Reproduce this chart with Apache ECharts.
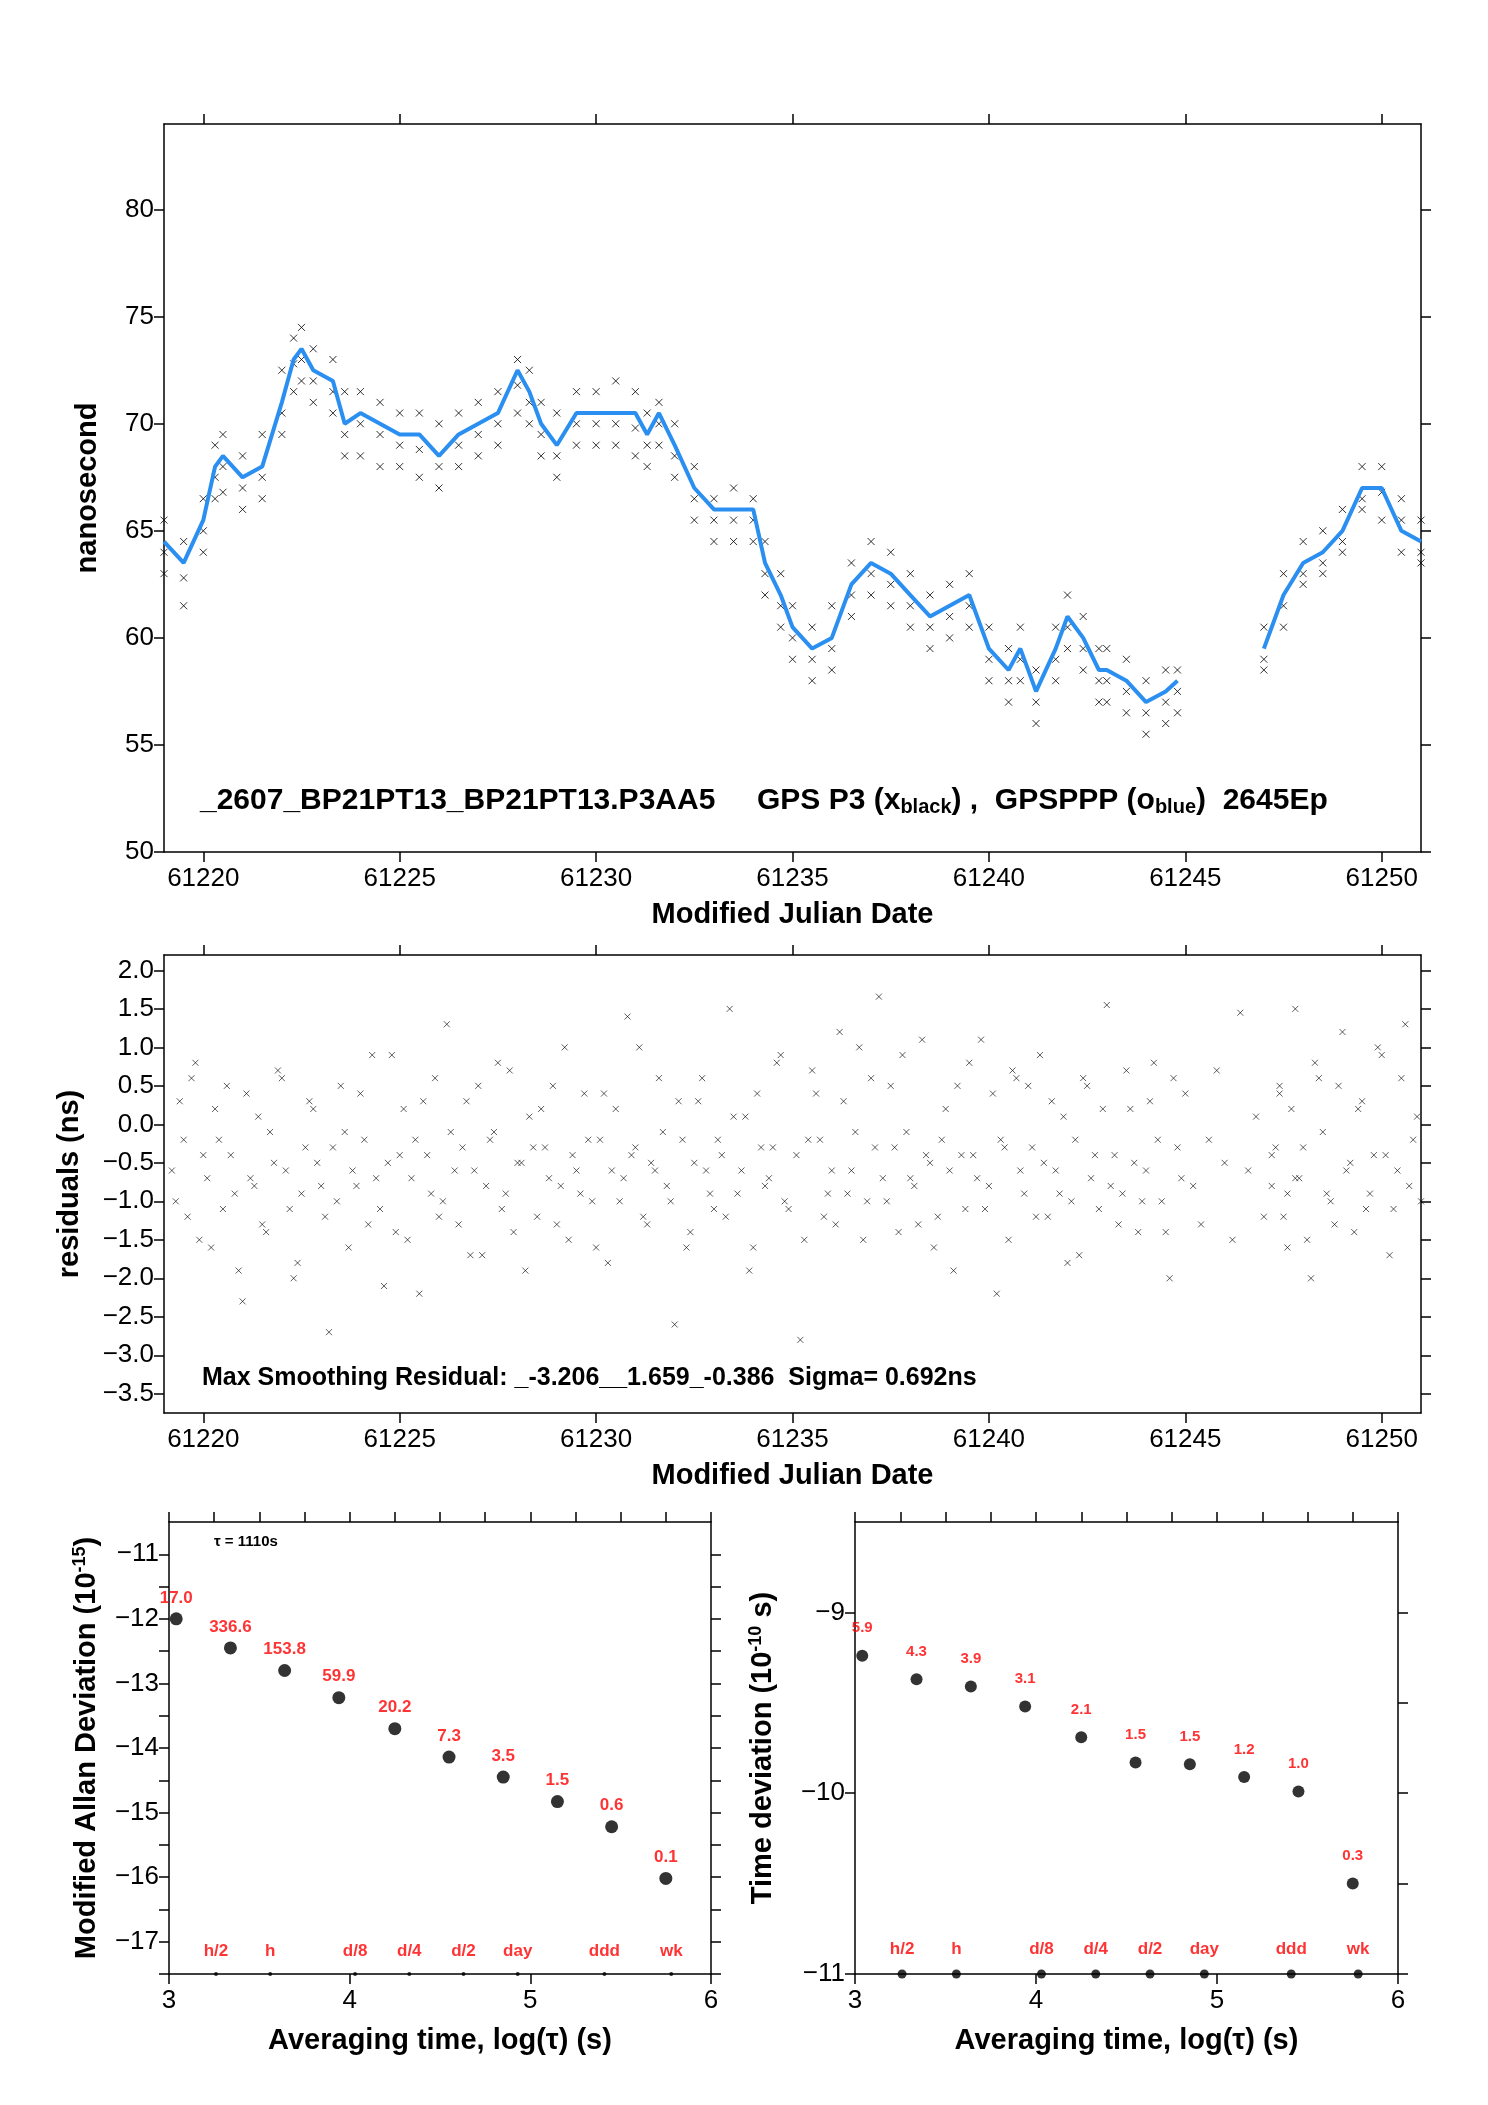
<!DOCTYPE html>
<html>
<head>
<meta charset="utf-8">
<script src="https://cdn.jsdelivr.net/npm/echarts@6/dist/echarts.min.js"></script>
<style>
  html, body { margin: 0; padding: 0; background: #fff; }
  #main { width: 1488px; height: 2105px; }
</style>
</head>
<body>
<div id="main"></div>
<script>
// ---- phase plot: smoothed (blue) track
const blueDays = [61219.0, 61219.5, 61220.0, 61220.3, 61220.5, 61221.0, 61221.5, 61222.0, 61222.3, 61222.5,
  61222.8, 61223.3, 61223.6, 61224.0, 61224.5, 61225.0, 61225.5, 61226.0, 61226.5, 61227.0,
  61227.5, 61228.0, 61228.3, 61228.6, 61229.0, 61229.5, 61230.0, 61230.5, 61231.0, 61231.3,
  61231.6, 61232.0, 61232.5, 61233.0, 61233.5, 61234.0, 61234.3, 61234.7, 61235.0, 61235.5,
  61236.0, 61236.5, 61237.0, 61237.5, 61238.0, 61238.5, 61239.0, 61239.5, 61240.0, 61240.5,
  61240.8, 61241.2, 61241.7, 61242.0, 61242.4, 61242.8, 61243.0, 61243.5, 61244.0, 61244.5,
  61244.8, null,
  61247.0, 61247.5, 61248.0, 61248.5, 61249.0, 61249.5, 61250.0, 61250.5, 61251.0]
const blueValues = [64.5, 63.5, 65.5, 68.0, 68.5, 67.5, 68.0, 71.0, 73.0, 73.5,
  72.5, 72.0, 70.0, 70.5, 70.0, 69.5, 69.5, 68.5, 69.5, 70.0,
  70.5, 72.5, 71.5, 70.0, 69.0, 70.5, 70.5, 70.5, 70.5, 69.5,
  70.5, 69.0, 67.0, 66.0, 66.0, 66.0, 63.5, 62.0, 60.5, 59.5,
  60.0, 62.5, 63.5, 63.0, 62.0, 61.0, 61.5, 62.0, 59.5, 58.5,
  59.5, 57.5, 59.5, 61.0, 60.0, 58.5, 58.5, 58.0, 57.0, 57.5,
  58.0, null,
  59.5, 62.0, 63.5, 64.0, 65.0, 67.0, 67.0, 65.0, 64.5]
// raw GPS P3 scatter (black) shown as spread below/above the track
const blackLow = [63.0, 61.5, 64.0, 66.5, 66.8, 66.0, 66.5, 69.5, 71.5, 72.0,
  71.0, 70.5, 68.5, 68.5, 68.0, 68.0, 67.5, 67.0, 68.0, 68.5,
  69.0, 70.5, 70.0, 68.5, 67.5, 69.0, 69.0, 69.0, 68.5, 68.0,
  69.0, 67.5, 65.5, 64.5, 64.5, 64.5, 62.0, 60.5, 59.0, 58.0,
  58.5, 61.0, 62.0, 61.5, 60.5, 59.5, 60.0, 60.5, 58.0, 57.0,
  58.0, 56.0, 58.0, 59.5, 58.5, 57.0, 57.0, 56.5, 55.5, 56.0,
  56.5, null,
  58.5, 60.5, 62.5, 63.0, 64.0, 66.0, 65.5, 64.0, 63.5]
const blackHigh = [65.5, 64.5, 66.5, 69.0, 69.5, 68.5, 69.5, 72.5, 74.0, 74.5,
  73.5, 73.0, 71.5, 71.5, 71.0, 70.5, 70.5, 70.0, 70.5, 71.0,
  71.5, 73.0, 72.5, 71.0, 70.5, 71.5, 71.5, 72.0, 71.5, 70.5,
  71.0, 70.0, 68.0, 66.5, 67.0, 66.5, 64.5, 63.0, 61.5, 60.5,
  61.5, 63.5, 64.5, 64.0, 63.0, 62.0, 62.5, 63.0, 60.5, 59.5,
  60.5, 58.5, 60.5, 62.0, 61.0, 59.5, 59.5, 59.0, 58.0, 58.5,
  58.5, null,
  60.5, 63.0, 64.5, 65.0, 66.0, 68.0, 68.0, 66.5, 65.5]
const blackMid = [64.0, 62.8, 65.0, 67.5, 68.0, 67.0, 67.5, 70.5, 72.8, 73.0,
  72.0, 71.5, 69.5, 70.0, 69.5, 69.0, 68.8, 68.0, 69.0, 69.5,
  70.0, 71.8, 71.0, 69.5, 68.5, 70.0, 70.0, 70.0, 69.8, 69.0,
  70.0, 68.5, 66.5, 65.5, 65.5, 65.5, 63.0, 61.5, 60.0, 59.0,
  59.5, 62.0, 63.0, 62.5, 61.5, 60.5, 61.0, 61.5, 59.0, 58.0,
  59.0, 57.0, 59.0, 60.5, 59.5, 58.0, 58.0, 57.5, 56.5, 57.0,
  57.5, null,
  59.0, 61.5, 63.0, 63.5, 64.5, 66.5, 66.8, 65.5, 64.0]

// ---- residuals (ns), values every 0.2 day, two interleaved runs
const residStart1 = 61219.2
const residStart1b = 61219.3
const residStart2 = 61247.2
const residStep = 0.2
const residA = [
  -0.6, 0.3, -1.2, 0.8, -0.4, -1.6, -0.2, 0.5, -0.9, -2.3, -0.7, 0.1, -1.4, -0.5, 0.6, -1.1, -1.8, -0.3, 0.2, -0.8,
  -2.7, -1.0, -0.1, -0.6, 0.4, -1.3, -0.7, -2.1, 0.9, -0.4, -1.5, -0.2, 0.3, -0.9, -1.2, 1.3, -0.6, -0.3, -1.7, 0.5,
  -0.8, -0.1, -1.1, 0.7, -0.5, -1.9, -0.3, 0.2, -0.7, -1.3, 1.0, -0.4, -0.9, -0.2, -1.6, 0.4, -0.6, -1.0, 1.4, -0.3,
  -1.2, -0.5, 0.6, -0.8, -2.6, -0.2, -1.4, 0.3, -0.6, -1.1, -0.4, 1.5, -0.9, 0.1, -1.6, -0.3, -0.7, 0.8, -1.0, -3.206,
  -2.8, -0.2, 0.4, -1.2, -0.6, 1.2, -0.9, -0.1, -1.5, 0.6, 1.659, -1.0, -0.3, 0.9, -0.7, -1.3, -0.4, -1.6, -0.2, -0.6,
  0.5, -1.1, -0.4, 1.1, -0.8, -2.2, -0.3, 0.7, -0.6, 0.5, -1.2, -0.5, 0.3, -0.9, -1.8, -0.2, 0.6, -0.7, -1.1, 1.55,
  -0.4, -0.9, 0.2, -1.4, -0.6, 0.8, -1.0, -2.0, -0.3, 0.4, -0.8, -1.3, -0.2, 0.7, -0.5, -1.5, 1.45, -0.6, 0.1, -1.2,
  -0.4, 0.5, -0.9, -0.7]
const residC = [
  -1.0, -0.2, 0.6, -1.5, -0.7, 0.2, -1.1, -0.4, -1.9, 0.4, -0.8, -1.3, -0.1, 0.7, -0.6, -2.0, -0.9, 0.3, -0.5, -1.2,
  -0.3, 0.5, -1.6, -0.8, -0.2, 0.9, -1.1, -0.5, -1.4, 0.2, -0.7, -2.2, -0.4, 0.6, -1.0, -0.1, -1.3, 0.3, -0.6, -1.7,
  -0.2, 0.8, -0.9, -1.4, -0.5, 0.1, -1.2, -0.3, 0.5, -0.8, -1.5, -0.6, 0.4, -1.0, -0.2, -1.8, 0.2, -0.7, -0.4, 1.0,
  -1.3, -0.6, -0.1, -1.0, 0.3, -1.6, -0.5, 0.6, -0.9, -0.2, -1.2, 0.1, -0.6, -1.9, 0.4, -0.8, -0.3, 0.9, -1.1, -0.4,
  -1.5, 0.7, -0.2, -0.9, -1.3, 0.3, -0.6, 1.0, -1.0, -0.3, -0.7, 0.5, -1.4, -0.1, -0.8, 1.1, -0.5, -1.2, 0.2, -1.9,
  -0.4, 0.8, -0.7, -1.1, 0.4, -0.2, -1.5, 0.6, -0.9, -0.3, 0.9, -1.2, -0.6, 0.1, -1.0, -1.7, 0.5, -0.4, 0.2, -0.8,
  -1.3, 0.7, -0.5, -1.0, 0.3, -0.2, -1.4, 0.6, -0.7]
const residB = [
  -0.8, 0.4, -1.6, 1.5, -0.3, -2.0, 0.6, -0.9, -1.3, 1.2, -0.5, 0.2, -1.1, -0.4, 0.9, -1.7, -0.6, 1.3, -0.2, -1.0]
const residD = [
  -0.3, -1.2, 0.2, -0.7, -1.5, 0.8, -0.1, -1.0, 0.5, -0.6, -1.4, 0.3, -0.9, 1.0, -0.4, -1.1, 0.6, -0.8, 0.1, -1.3]

// ---- stability plots
const logTau = [3.04, 3.34, 3.64, 3.94, 4.25, 4.55, 4.85, 5.15, 5.45, 5.75]
const madevLog = [-12.0, -12.45, -12.8, -13.22, -13.7, -14.14, -14.45, -14.83, -15.22, -16.02]
const madevLabels = ['17.0', '336.6', '153.8', '59.9', '20.2', '7.3', '3.5', '1.5', '0.6', '0.1']
const tdevLog = [-9.24, -9.37, -9.41, -9.52, -9.69, -9.83, -9.84, -9.91, -9.99, -10.50]
const tdevLabels = ['5.9', '4.3', '3.9', '3.1', '2.1', '1.5', '1.5', '1.2', '1.0', '0.3']
const markTau = [3.26, 3.56, 4.03, 4.33, 4.63, 4.93, 5.41, 5.78]
const markNames = ['h/2', 'h', 'd/8', 'd/4', 'd/2', 'day', 'ddd', 'wk']

const FONT = 'Liberation Sans'
const main = document.querySelector('#main')
const myChart = echarts.init(main)

const pair = (xs, ys) => xs.map((x, i) => (x === null ? null : [x, ys[i]]))
const residPoints = [
  ...residA.map((v, i) => [residStart1 + i * residStep, v]),
  ...residC.map((v, i) => [residStart1b + i * residStep, v]),
  ...residB.map((v, i) => [residStart2 + i * residStep, v]),
  ...residD.map((v, i) => [residStart2 + 0.1 + i * residStep, v])
]

const grids = [
  { left: 164, width: 1257, top: 124, height: 728 },
  { left: 164, width: 1257, top: 955, height: 458 },
  { left: 169, width: 542, top: 1522, height: 452 },
  { left: 855, width: 543, top: 1522, height: 452 }
]
const mjdTicks = [61220, 61225, 61230, 61235, 61240, 61245, 61250]

const axisText = { color: '#000', fontFamily: FONT, fontSize: 26 }
const nameText = { color: '#000', fontFamily: FONT, fontSize: 29, fontWeight: 'bold' }
const line = { show: true, onZero: false, lineStyle: { color: '#000', width: 1.5 } }

function mjdX(grid, pos, labels) {
  return {
    type: 'value', gridIndex: grid, position: pos, min: 61219, max: 61251,
    axisLine: line, splitLine: { show: false },
    axisTick: { show: true, length: 10, lineStyle: { color: '#000', width: 1.5 }, customValues: mjdTicks },
    axisLabel: labels ? Object.assign({ margin: 14, customValues: mjdTicks, formatter: v => String(v) }, axisText) : { show: false },
    name: labels ? 'Modified Julian Date' : '', nameLocation: 'middle', nameGap: 48, nameTextStyle: nameText
  }
}
function tauX(grid, pos, labels) {
  return {
    type: 'value', gridIndex: grid, position: pos, min: 3, max: 6, interval: labels ? 1 : 0.5,
    axisLine: line, splitLine: { show: false },
    axisTick: { show: true, inside: false, length: 10, lineStyle: { color: '#000', width: 1.5 } },
    minorTick: { show: !labels, splitNumber: 2, length: 10, lineStyle: { color: '#000', width: 1.5 } },
    axisLabel: labels ? Object.assign({ margin: 14 }, axisText) : { show: false },
    name: labels ? 'Averaging time, log(τ) (s)' : '', nameLocation: 'middle', nameGap: 52, nameTextStyle: nameText
  }
}
function valY(grid, pos, min, max, ticks, labels, name, gap, fmt) {
  return {
    type: 'value', gridIndex: grid, position: pos, min: min, max: max,
    axisLine: line, splitLine: { show: false },
    axisTick: { show: true, inside: false, length: 10, lineStyle: { color: '#000', width: 1.5 }, customValues: ticks },
    axisLabel: labels ? Object.assign({ margin: 10, customValues: ticks, formatter: fmt || (v => String(v).replace('-', '−')) }, axisText) : { show: false },
    name: labels ? name : '', nameLocation: 'middle', nameGap: gap, nameRotate: 90,
    nameTextStyle: Object.assign({ rich: { sup: { fontFamily: FONT, fontSize: 18, fontWeight: 'bold', verticalAlign: 'top', padding: [0, 0, 14, 0] } } }, nameText)
  }
}

const phaseTicks = [50, 55, 60, 65, 70, 75, 80]
const residTicks = [-3.5, -3, -2.5, -2, -1.5, -1, -0.5, 0, 0.5, 1, 1.5, 2]
const madevTicks = [-17, -16, -15, -14, -13, -12, -11]
const madevMinor = [-17.5, -17, -16.5, -16, -15.5, -15, -14.5, -14, -13.5, -13, -12.5, -12, -11.5, -11]
const tdevTicks = [-11, -10, -9]
const tdevMinor = [-11, -10.5, -10, -9.5, -9]

const xAxis = [
  mjdX(0, 'bottom', true), mjdX(0, 'top', false),
  mjdX(1, 'bottom', true), mjdX(1, 'top', false),
  tauX(2, 'bottom', true), tauX(2, 'top', false),
  tauX(3, 'bottom', true), tauX(3, 'top', false)
]
const yAxis = [
  valY(0, 'left', 50, 84, phaseTicks, true, 'nanosecond', 62),
  valY(0, 'right', 50, 84, phaseTicks, false),
  valY(1, 'left', -3.75, 2.2, residTicks, true, 'residuals (ns)', 80, v => v.toFixed(1).replace('-', '−')),
  valY(1, 'right', -3.75, 2.2, residTicks, false),
  valY(2, 'left', -17.5, -10.5, madevMinor, true, 'Modified Allan Deviation (10{sup|-15})', 66),
  valY(2, 'right', -17.5, -10.5, madevMinor, false),
  valY(3, 'left', -11, -8.5, tdevTicks, true, 'Time deviation (10{sup|-10} s)', 76),
  valY(3, 'right', -11, -8.5, tdevMinor, false)
]
yAxis[4].axisLabel.customValues = madevTicks

const cross = 'path://M0,0L10,10M10,0L0,10'
const redLabel = { show: true, position: 'top', distance: 6, color: '#ff0000', fontFamily: FONT, fontSize: 17, fontWeight: 'bold' }

const series = [
  { type: 'scatter', xAxisIndex: 0, yAxisIndex: 0, symbol: cross, symbolSize: 7,
    itemStyle: { color: 'none', borderColor: '#000', borderWidth: 1 },
    data: [...pair(blueDays, blackLow), ...pair(blueDays, blackHigh), ...pair(blueDays, blackMid)].filter(d => d) },
  { type: 'line', xAxisIndex: 0, yAxisIndex: 0, showSymbol: false, connectNulls: false,
    lineStyle: { color: '#2a8ff0', width: 4 }, data: pair(blueDays, blueValues).map(d => d || [null, null]) },
  { type: 'scatter', xAxisIndex: 2, yAxisIndex: 2, symbol: cross, symbolSize: 6,
    itemStyle: { color: 'none', borderColor: '#000', borderWidth: 0.8 }, data: residPoints },
  { type: 'scatter', xAxisIndex: 4, yAxisIndex: 4, symbolSize: 13, itemStyle: { color: '#000' },
    label: Object.assign({ formatter: p => madevLabels[p.dataIndex] }, redLabel), data: pair(logTau, madevLog) },
  { type: 'scatter', xAxisIndex: 4, yAxisIndex: 4, symbolSize: 4, itemStyle: { color: '#000' },
    label: Object.assign({ formatter: p => markNames[p.dataIndex] }, redLabel, { distance: 12 }), data: markTau.map(t => [t, -17.5]) },
  { type: 'scatter', xAxisIndex: 6, yAxisIndex: 6, symbolSize: 12, itemStyle: { color: '#000' },
    label: Object.assign({ formatter: p => tdevLabels[p.dataIndex] }, redLabel, { fontSize: 15, distance: 14 }), data: pair(logTau, tdevLog) },
  { type: 'scatter', xAxisIndex: 6, yAxisIndex: 6, symbolSize: 9, itemStyle: { color: '#000' },
    label: Object.assign({ formatter: p => markNames[p.dataIndex] }, redLabel, { distance: 12 }), data: markTau.map(t => [t, -11]) }
]

myChart.setOption({
  animation: false,
  backgroundColor: '#fff',
  grid: grids,
  xAxis: xAxis,
  yAxis: yAxis,
  series: series,
  graphic: [
    { type: 'text', left: 200, top: 786, style: {
        text: '_2607_BP21PT13_BP21PT13.P3AA5     GPS P3 (x{sub|black}) ,  GPSPPP (o{sub|blue})  2645Ep',
        fontFamily: FONT, fontSize: 30, fontWeight: 'bold', fill: '#000',
        rich: { sub: { fontFamily: FONT, fontSize: 20, fontWeight: 'bold', verticalAlign: 'bottom', padding: [12, 0, 0, 0] } } } },
    { type: 'text', left: 202, top: 1366, style: {
        text: 'Max Smoothing Residual: _-3.206__1.659_-0.386  Sigma= 0.692ns',
        fontFamily: FONT, fontSize: 25, fontWeight: 'bold', fill: '#000' } },
    { type: 'text', left: 214, top: 1534, style: {
        text: 'τ = 1110s', fontFamily: FONT, fontSize: 15, fontWeight: 'bold', fill: '#000' } }
  ]
})
</script>
</body>
</html>
